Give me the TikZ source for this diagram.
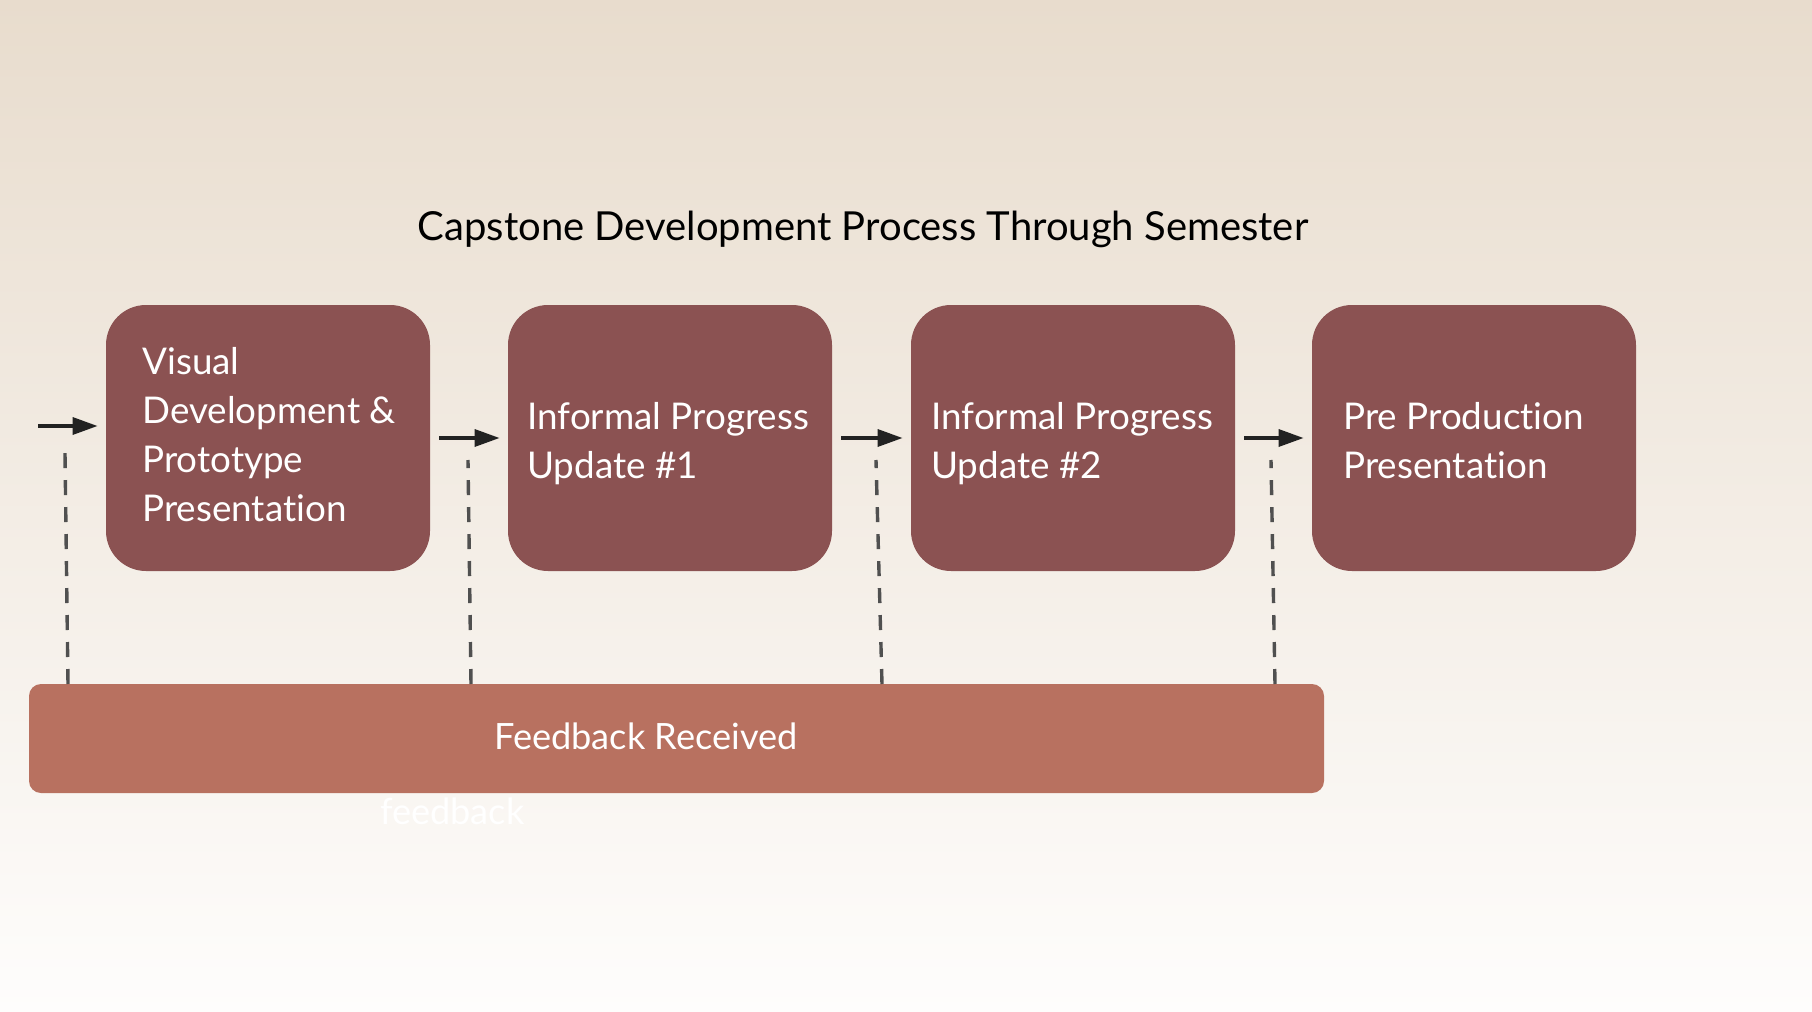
\documentclass[tikz,border=0pt]{standalone}
\usepackage{fontspec}
\setmainfont{Lato}[Ligatures=NoCommon]
\usetikzlibrary{arrows.meta}
\definecolor{bgtop}{RGB}{232,220,205}
\definecolor{bgbot}{RGB}{254,253,252}
\definecolor{stagecol}{RGB}{139,82,82}
\definecolor{fbcol}{RGB}{184,113,96}
\definecolor{dashgray}{RGB}{80,80,80}
\definecolor{arrowcol}{RGB}{34,34,34}
\begin{document}
\begin{tikzpicture}[x=0.5pt,y=-0.5pt,
  stagebox/.style={fill=stagecol, rounded corners=20pt, minimum width=162pt, minimum height=133pt, inner sep=0pt},
  stagetext/.style={text=white, align=left, inner sep=0pt, anchor=north west, font=\fontsize{18.4}{24.5}\selectfont},
  flowarrow/.style={draw=arrowcol, line width=1.7pt, -{Triangle[length=12.5pt,width=8.5pt]}},
  fbline/.style={draw=dashgray, line width=1.7pt, dash pattern=on 7.5pt off 6pt},
]
\useasboundingbox (0,0) rectangle (1812,1012);
\shade[top color=bgtop, bottom color=bgbot] (0,0) rectangle (1812,1012);

\node[anchor=base, font=\fontsize{20}{24}\selectfont, text=black] (title) at (863,240) {Capstone Development Process Through Semester};

\node[stagebox] (b1) at (268,438) {};
\node[stagebox] (b2) at (670,438) {};
\node[stagebox] (b3) at (1073,438) {};
\node[stagebox] (b4) at (1474,438) {};

\node[stagetext] (t1) at (142,347) {Visual\\Development \&\\Prototype\\Presentation};
\node[stagetext] (t2) at (527,402) {Informal Progress\\Update \#1};
\node[stagetext] (t3) at (931,402) {Informal Progress\\Update \#2};
\node[stagetext] (t4) at (1343,402) {Pre Production\\Presentation};

\node[fill=fbcol, rounded corners=6pt, minimum width=647.5pt, minimum height=54.5pt, inner sep=0pt] (fbox) at (676.5,738.5) {};
\node[anchor=base, text=white, font=\fontsize{18.1}{24}\selectfont] (fbtext) at (646,749) {Feedback Received};
\node[anchor=base west, text=white, font=\fontsize{18.1}{24}\selectfont] (fbnote) at (373,824) {feedback};

\coordinate (s0) at (38,426);
\draw[flowarrow, shorten >=4pt] (s0) -- (s0 -| b1.west);
\draw[flowarrow, shorten <=4.5pt, shorten >=4pt] (b1.east) -- (b2.west);
\draw[flowarrow, shorten <=4.5pt, shorten >=4pt] (b2.east) -- (b3.west);
\draw[flowarrow, shorten <=4.5pt, shorten >=4pt] (b3.east) -- (b4.west);

\coordinate (u1) at (65,453);  \coordinate (v1) at (68,684);
\coordinate (u2) at (468,460); \coordinate (v2) at (471,684);
\coordinate (u3) at (876,460); \coordinate (v3) at (882,684);
\coordinate (u4) at (1271,460); \coordinate (v4) at (1275,684);
\draw[fbline] (v1) -- (u1);
\draw[fbline] (v2) -- (u2);
\draw[fbline] (v3) -- (u3);
\draw[fbline] (v4) -- (u4);
\end{tikzpicture}
\end{document}
